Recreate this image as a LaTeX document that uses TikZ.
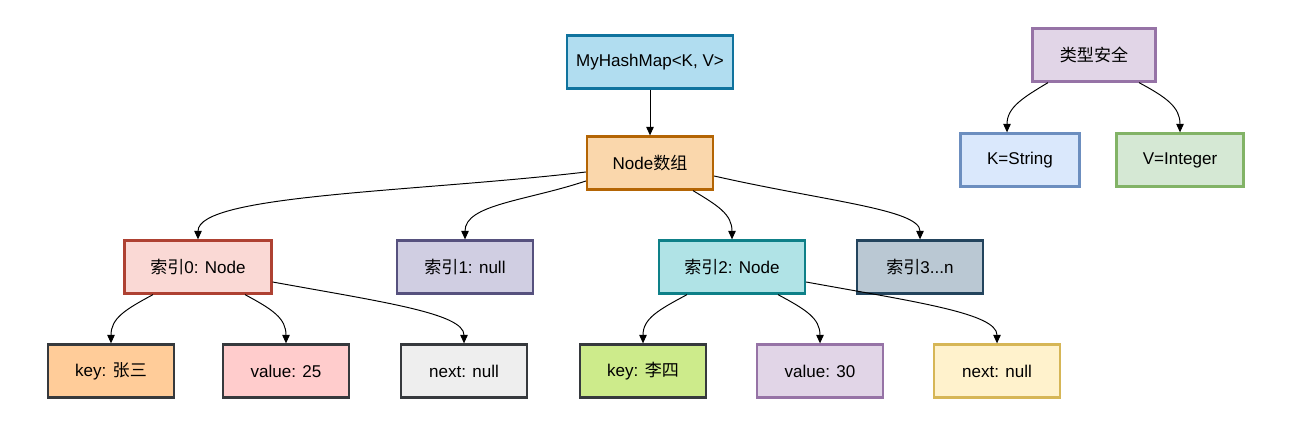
\documentclass[tikz,border=0pt]{standalone}
\usepackage{fontspec}
\setmainfont{Liberation Sans}
\newfontfamily\cjk{Noto Sans CJK SC}
\usepackage{tikz}
\usetikzlibrary{arrows.meta, calc}
\definecolor{MapFill}{HTML}{B1DDF0}
\definecolor{MapLine}{HTML}{10739E}
\definecolor{ArrFill}{HTML}{FAD7AC}
\definecolor{ArrLine}{HTML}{B46504}
\definecolor{RedFill}{HTML}{FAD9D5}
\definecolor{RedLine}{HTML}{AE4132}
\definecolor{NavyFill}{HTML}{D0CEE2}
\definecolor{NavyLine}{HTML}{56517E}
\definecolor{TealFill}{HTML}{B0E3E6}
\definecolor{TealLine}{HTML}{0E8088}
\definecolor{SlateFill}{HTML}{BAC8D3}
\definecolor{SlateLine}{HTML}{23445D}
\definecolor{PurpleFill}{HTML}{E1D5E7}
\definecolor{PurpleLine}{HTML}{9673A6}
\definecolor{BlueFill}{HTML}{DAE8FC}
\definecolor{BlueLine}{HTML}{6C8EBF}
\definecolor{GreenFill}{HTML}{D5E8D4}
\definecolor{GreenLine}{HTML}{82B366}
\definecolor{OrangeFill}{HTML}{FFCC99}
\definecolor{PinkFill}{HTML}{FFCCCC}
\definecolor{GreyFill}{HTML}{EEEEEE}
\definecolor{LimeFill}{HTML}{CDEB8B}
\definecolor{YellowFill}{HTML}{FFF2CC}
\definecolor{YellowLine}{HTML}{D6B656}
\definecolor{Charcoal}{HTML}{36393D}

\begin{document}
\begin{tikzpicture}[x=0.02cm, y=-0.02cm, >={Triangle[length=0.17cm, width=0.15cm]},
    cell/.style={draw, line width=1.3pt, minimum width=2.52cm, minimum height=1.06cm, inner sep=0pt, font=\fontsize{9.7}{12}\selectfont},
    link/.style={->, line width=0.55pt, color=black}]
                \useasboundingbox (0,0) rectangle (1290,435);

                % 1. Top: the map and the type-safety box
                \node[cell, fill=MapFill, draw=MapLine, minimum width=3.32cm] (hashmap) at (650,62) {MyHashMap<K, V>};
                \node[cell, fill=PurpleFill, draw=PurpleLine, minimum width=2.46cm] (typesafe) at (1094,55) {{\cjk 类型安全}};
                \node[cell, fill=BlueFill, draw=BlueLine, minimum width=2.38cm] (kstr) at (1020,160) {K=String};
                \node[cell, fill=GreenFill, draw=GreenLine, minimum width=2.54cm] (vint) at (1180,160) {V=Integer};

                % 2. Node array
                \node[cell, fill=ArrFill, draw=ArrLine] (arr) at (650,163) {Node{\cjk 数组}};

                % 3. Buckets
                \node[cell, fill=RedFill, draw=RedLine, minimum width=2.94cm] (idx0) at (198,267) {{\cjk 索引}0: Node};
                \node[cell, fill=NavyFill, draw=NavyLine, minimum width=2.72cm] (idx1) at (465,267) {{\cjk 索引}1: null};
                \node[cell, fill=TealFill, draw=TealLine, minimum width=2.92cm] (idx2) at (732,267) {{\cjk 索引}2: Node};
                \node[cell, fill=SlateFill, draw=SlateLine] (idx3) at (920,267) {{\cjk 索引}3...n};

                % 4. Entry fields
                \node[cell, fill=OrangeFill, draw=Charcoal] (key0) at (111,371) {key: {\cjk 张三}};
                \node[cell, fill=PinkFill, draw=Charcoal] (val0) at (286,371) {value: 25};
                \node[cell, fill=GreyFill, draw=Charcoal] (next0) at (464,371) {next: null};
                \node[cell, fill=LimeFill, draw=Charcoal] (key2) at (643,371) {key: {\cjk 李四}};
                \node[cell, fill=PurpleFill, draw=PurpleLine] (val2) at (820,371) {value: 30};
                \node[cell, fill=YellowFill, draw=YellowLine] (next2) at (997,371) {next: null};

                % -------------------------------------------------------------
                % CONNECTORS (y grows downwards here)
                % -------------------------------------------------------------
                \draw[link] (hashmap) -- (arr);
                \draw[link] ($(typesafe.south)+(-46,0)$) .. controls +(-25,15) and +(0,-25) .. ($(kstr.north)+(-13,0)$);
                \draw[link] ($(typesafe.south)+(45,0)$) .. controls +(28,15) and +(0,-25) .. (vint.north);

                \draw[link] ($(arr.west)+(0,9)$) .. controls +(-170,20) and +(0,-45) .. (idx0.north);
                \draw[link] ($(arr.west)+(0,18)$) .. controls +(-60,20) and +(0,-35) .. (idx1.north);
                \draw[link] ($(arr.south)+(43,0)$) .. controls +(25,15) and +(0,-25) .. (idx2.north);
                \draw[link] ($(arr.east)+(0,13)$) .. controls +(110,25) and +(0,-30) .. (idx3.north);

                \draw[link] ($(idx0.south)+(-45,0)$) .. controls +(-28,15) and +(0,-25) .. (key0.north);
                \draw[link] ($(idx0.south)+(47,0)$) .. controls +(28,15) and +(0,-25) .. (val0.north);
                \draw[link] ($(idx0.east)+(0,15)$) .. controls +(110,20) and +(0,-30) .. (next0.north);

                \draw[link] ($(idx2.south)+(-45,0)$) .. controls +(-28,15) and +(0,-25) .. (key2.north);
                \draw[link] ($(idx2.south)+(46,0)$) .. controls +(28,15) and +(0,-25) .. (val2.north);
                \draw[link] ($(idx2.east)+(0,15)$) .. controls +(110,20) and +(0,-30) .. (next2.north);
\end{tikzpicture}
\end{document}
